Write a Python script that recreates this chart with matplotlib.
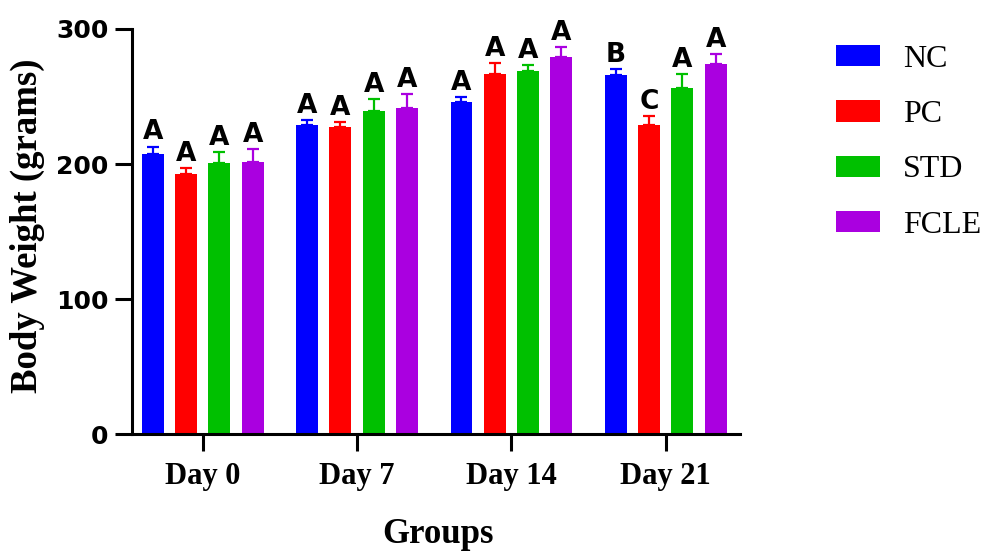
import matplotlib
matplotlib.use("Agg")
import matplotlib.pyplot as plt
import numpy as np

# Body weight (g), mean and SD per group at each time point
days = ["Day 0", "Day 7", "Day 14", "Day 21"]
groups = ["NC", "PC", "STD", "FCLE"]
colors = ["#0000FF", "#FF0000", "#00C000", "#AA00E0"]

nc_mean = [207.5, 228.7, 245.9, 266.1]
pc_mean = [192.7, 227.2, 266.6, 228.7]
std_mean = [200.6, 239.1, 268.6, 256.5]
fcle_mean = [201.3, 241.5, 279.0, 274.0]

nc_sd = [5.4, 3.7, 3.5, 4.2]
pc_sd = [4.2, 3.9, 8.0, 6.9]
std_sd = [8.1, 9.1, 4.7, 9.9]
fcle_sd = [9.6, 10.4, 7.6, 7.4]

# significance letters
nc_sig = ["A", "A", "A", "B"]
pc_sig = ["A", "A", "A", "C"]
std_sig = ["A", "A", "A", "A"]
fcle_sig = ["A", "A", "A", "A"]

means = [nc_mean, pc_mean, std_mean, fcle_mean]
sds = [nc_sd, pc_sd, std_sd, fcle_sd]
sigs = [nc_sig, pc_sig, std_sig, fcle_sig]

fig = plt.figure(figsize=(9.87, 5.52), dpi=100)
ax = fig.add_axes([0.1334, 0.2129, 0.8 - 0.1334 - 0.0502, 0.9475 - 0.2129])

x = np.arange(len(days))
width = 0.142
step = 0.2157
offsets = (np.arange(len(groups)) - 1.5) * step

for i, g in enumerate(groups):
    xs = x + offsets[i]
    ax.bar(xs, means[i], width, color=colors[i], label=g, zorder=2)
    ax.errorbar(xs, means[i], yerr=[np.zeros(len(days)), sds[i]], fmt="none",
                ecolor=colors[i], elinewidth=1.6, capsize=4.3, capthick=1.6, zorder=3)
    for xi, m, s, lab in zip(xs, means[i], sds[i], sigs[i]):
        ax.annotate(lab, (xi, m + s), xytext=(0, 5.3), textcoords="offset points",
                    ha="center", va="baseline", fontsize=19, fontweight="bold",
                    family="DejaVu Sans")

ax.set_xlim(-0.461, 3.482)
ax.set_ylim(0, 300)
ax.set_yticks([0, 100, 200, 300])
ax.set_xticks(x)
ax.set_xticklabels(days, family="Liberation Serif", fontweight="bold", fontsize=22)
for t in ax.get_yticklabels():
    t.set_family("DejaVu Sans")
    t.set_fontweight("bold")
    t.set_fontsize(18)

for side in ["top", "right"]:
    ax.spines[side].set_visible(False)
for side in ["left", "bottom"]:
    ax.spines[side].set_linewidth(2.2)
ax.tick_params(axis="both", width=2.2, length=12)
ax.tick_params(axis="y", pad=4.8)
ax.tick_params(axis="x", pad=7.5)

fig.text(0.028, 0.5915, "Body Weight (grams)", rotation=90, ha="center", va="center",
         family="Liberation Serif", fontweight="bold", fontsize=26.5)
fig.text(0.4437, 9 / 552, "Groups", ha="center", va="baseline",
         family="Liberation Serif", fontweight="bold", fontsize=25)

leg = ax.legend(loc="upper left", bbox_to_anchor=(836 / 987, 1 - 45 / 552),
                bbox_transform=fig.transFigure, frameon=False,
                prop={"family": "Liberation Serif", "size": 23},
                handlelength=1.38, handleheight=0.65, handletextpad=0.72,
                labelspacing=0.82, borderpad=0, borderaxespad=0)

fig.savefig("out.png", dpi=100)
